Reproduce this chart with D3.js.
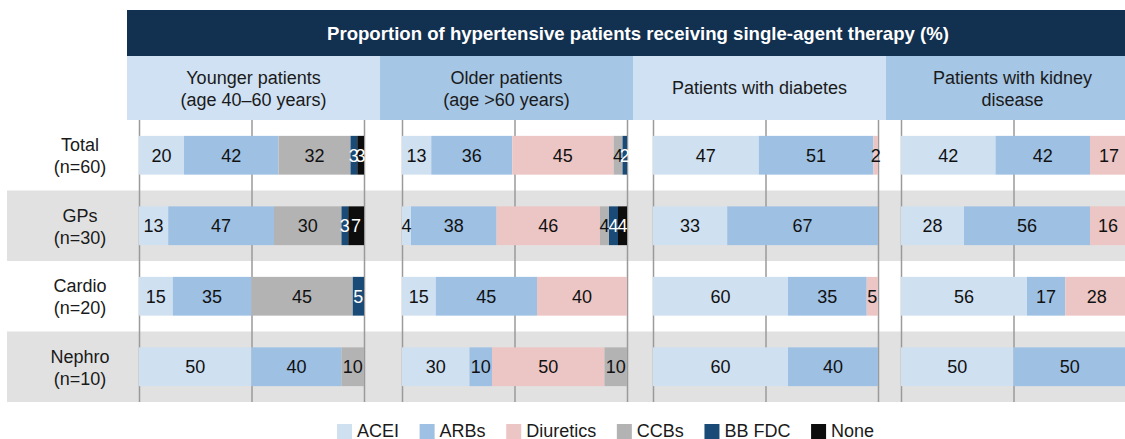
<!DOCTYPE html>
<html>
<head>
<meta charset="utf-8">
<script src="https://cdn.jsdelivr.net/npm/d3@7"></script>
<style>
  body { margin: 0; background: #fff; }
  text { font-family: Arial, "Liberation Sans", sans-serif; }
</style>
</head>
<body>
<div id="viz"></div>
<script>
// chart data
const title = "Proportion of hypertensive patients receiving single-agent therapy (%)";
const panelTitles = [
  ["Younger patients", "(age 40–60 years)"],
  ["Older patients", "(age >60 years)"],
  ["Patients with diabetes"],
  ["Patients with kidney", "disease"]
];
const groups = ["Total", "GPs", "Cardio", "Nephro"];
const groupN = ["(n=60)", "(n=30)", "(n=20)", "(n=10)"];
const drugs = ["ACEI", "ARBs", "Diuretics", "CCBs", "BB FDC", "None"];
const xTicks = [0, 50, 100];

// one row per group, one value per drug
const younger  = [[20, 42, 0, 32, 3, 3], [13, 47, 0, 30, 3, 7], [15, 35, 0, 45, 5, 0], [50, 40, 0, 10, 0, 0]];
const older    = [[13, 36, 45, 4, 2, 0], [4, 38, 46, 4, 4, 4], [15, 45, 40, 0, 0, 0], [30, 10, 50, 10, 0, 0]];
const diabetes = [[47, 51, 2, 0, 0, 0], [33, 67, 0, 0, 0, 0], [60, 35, 5, 0, 0, 0], [60, 40, 0, 0, 0, 0]];
const kidney   = [[42, 42, 17, 0, 0, 0], [28, 56, 16, 0, 0, 0], [56, 17, 28, 0, 0, 0], [50, 50, 0, 0, 0, 0]];
const panelData = [younger, older, diabetes, kidney];

// styling
const width = 1125, height = 439;
const colors = ["#cfe0f1", "#9dc0e3", "#ecc6c4", "#b3b3b3", "#1a4a76", "#0d0d0d"];
const labelColors = ["#111", "#111", "#111", "#111", "#fff", "#fff"];
const headerColors = ["#cfe1f2", "#a5c6e5"];
const panelX = [139, 402, 653, 901];      // left edge of each plot
const headX = [127, 380, 633, 886];       // left edge of each sub header
const plotW = 225, headW = 253;
const plotTop = 120, plotBottom = 402;

const svg = d3.select("#viz")
  .append("svg")
    .attr("width", width)
    .attr("height", height);

// row scale
const y = d3.scaleBand()
  .domain(groups)
  .range([plotTop, plotBottom]);
const barH = y.bandwidth() * 0.55;

// row backgrounds
svg.append("g")
  .selectAll("rect")
  .data(groups.filter((g, i) => i % 2 == 1))
  .join("rect")
    .attr("x", 7)
    .attr("y", d => y(d))
    .attr("width", width - 7)
    .attr("height", y.bandwidth())
    .attr("fill", "#e1e1e1");

// main header
svg.append("rect")
  .attr("x", 127).attr("y", 10)
  .attr("width", width - 127).attr("height", 46)
  .attr("fill", "#12304f");
svg.append("text")
  .attr("x", (127 + width) / 2 + 12).attr("y", 39.5)
  .attr("text-anchor", "middle")
  .attr("fill", "#fff")
  .attr("font-weight", "bold")
  .attr("font-size", 18.6)
  .text(title);

// sub headers
panelTitles.forEach((lines, i) => {
  svg.append("rect")
    .attr("x", headX[i]).attr("y", 56)
    .attr("width", headW).attr("height", 64)
    .attr("fill", headerColors[i % 2]);
  const t = svg.append("text")
    .attr("text-anchor", "middle")
    .attr("font-size", 18)
    .attr("fill", "#1a1a1a");
  const y0 = lines.length == 1 ? 94 : 84;
  lines.forEach((l, j) => {
    t.append("tspan")
      .attr("x", headX[i] + headW / 2)
      .attr("y", y0 + j * 22)
      .text(l);
  });
});

// row labels
groups.forEach((g, i) => {
  const cy = y(g) + y.bandwidth() / 2;
  const t = svg.append("text")
    .attr("text-anchor", "middle")
    .attr("font-size", 18)
    .attr("fill", "#1a1a1a");
  t.append("tspan").attr("x", 80).attr("y", cy - 4).text(g);
  t.append("tspan").attr("x", 80).attr("y", cy + 18).text(groupN[i]);
});

// panels
panelData.forEach((rows, p) => {
  const x = d3.scaleLinear()
    .domain([0, 100])
    .range([panelX[p], panelX[p] + plotW]);

  // gridlines
  const grid = svg.append("g")
    .attr("transform", "translate(0," + plotBottom + ")")
    .call(d3.axisBottom(x).tickValues(xTicks).tickSize(-(plotBottom - plotTop)).tickFormat(""));
  grid.select(".domain").remove();
  grid.selectAll("line").attr("stroke", "#9a9a9a").attr("stroke-width", 1.5);

  // stacked bars
  const table = rows.map((r, i) => {
    const o = {group: groups[i]};
    drugs.forEach((d, k) => o[d] = r[k]);
    return o;
  });
  const stacked = d3.stack().keys(drugs)(table);

  const layer = svg.append("g")
    .selectAll("g")
    .data(stacked)
    .join("g")
      .attr("fill", (d, k) => colors[k]);

  layer.selectAll("rect")
    .data(d => d.filter(s => s[1] > s[0]))
    .join("rect")
      .attr("x", d => x(d[0]))
      .attr("y", d => y(d.data.group) + (y.bandwidth() - barH) / 2)
      .attr("width", d => x(d[1]) - x(d[0]))
      .attr("height", barH);

  // value labels
  stacked.forEach((s, k) => {
    svg.append("g")
      .selectAll("text")
      .data(s.filter(d => d[1] > d[0]))
      .join("text")
        .attr("x", d => x((d[0] + d[1]) / 2))
        .attr("y", d => y(d.data.group) + y.bandwidth() / 2 + 6.5)
        .attr("text-anchor", "middle")
        .attr("font-size", 18)
        .attr("fill", labelColors[k])
        .text(d => d[1] - d[0]);
  });
});

// legend
const legend = svg.append("g");
let lx = 337;
drugs.forEach((d, k) => {
  legend.append("rect")
    .attr("x", lx).attr("y", 424)
    .attr("width", 15).attr("height", 15)
    .attr("fill", colors[k]);
  const t = legend.append("text")
    .attr("x", lx + 20).attr("y", 437)
    .attr("font-size", 18)
    .attr("fill", "#1a1a1a")
    .text(d);
  lx += 20 + t.node().getComputedTextLength() + 20.6;
});
</script>
</body>
</html>
